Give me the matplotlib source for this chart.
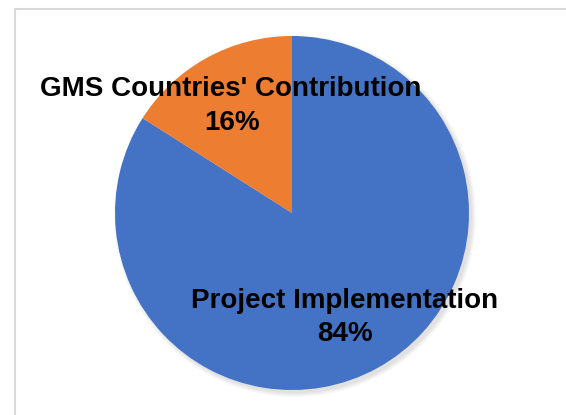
import matplotlib.pyplot as plt
from matplotlib.patches import Circle, Rectangle

# Данные
labels = ["Project Implementation", "GMS Countries' Contribution"]
values = [84, 16]
colors = ["#4472C4", "#ED7D31"]

W, H = 566, 415
fig = plt.figure(figsize=(W / 100, H / 100), dpi=100)
ax = fig.add_axes([0, 0, 1, 1])

# Рамка области диаграммы
ax.add_patch(Rectangle((14.5, -5), W, H - 9.5 + 5, fill=False,
                       edgecolor="#d9d9d9", linewidth=1.5))

cx, cy, r = 292, H - 213, 177

# Мягкая тень
for i in range(5):
    ax.add_patch(Circle((cx + 3, cy - 3), r + i, color="black",
                        alpha=0.025, lw=0, zorder=1))

ax.pie(values, colors=colors, startangle=90, counterclock=False,
       center=(cx, cy), radius=r, frame=True,
       wedgeprops=dict(linewidth=0, zorder=2))
ax.set_xlim(0, W)
ax.set_ylim(0, H)
ax.axis("off")

font = dict(family=["Liberation Sans", "DejaVu Sans"], fontweight="bold",
            fontsize=20, color="black", ha="center", va="center", zorder=5)
ax.text(231, H - 89, labels[1], **font)
ax.text(232, H - 123, f"{values[1]}%", **font)
ax.text(345, H - 301, labels[0], **font)
ax.text(345, H - 334, f"{values[0]}%", **font)

fig.savefig("out.png", dpi=100, facecolor="white")
